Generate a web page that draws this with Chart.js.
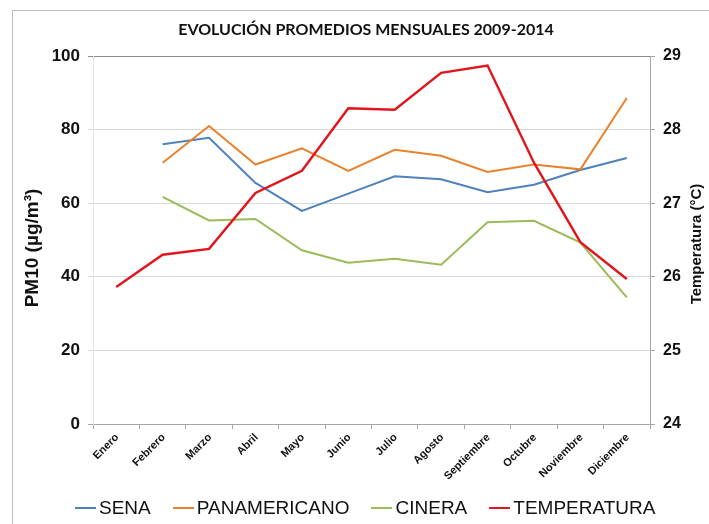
<!DOCTYPE html>
<html>
<head>
<meta charset="utf-8">
<script src="https://cdn.jsdelivr.net/npm/chart.js@4"></script>
<style>
  body { margin: 0; background: #fff; }
  #wrap { position: relative; width: 709px; height: 524px; overflow: hidden; }
  #frame { position: absolute; left: 12px; top: 10px; width: 720px; height: 540px;
           border-left: 1px solid #bdbdbd; border-top: 1px solid #bdbdbd; }
  #chart { position: absolute; left: 0; top: 0; }
  #legend { position: absolute; left: 75px; top: 497px; display: flex; align-items: center;
            font-family: Arial, "Liberation Sans", sans-serif; font-size: 19px; color: #111; }
  #legend .item { display: flex; align-items: center; margin-right: 22px; }
  #legend .swatch { width: 21px; height: 2px; margin-right: 3px; }
</style>
</head>
<body>
<div id="wrap">
  <div id="frame"></div>
  <canvas id="chart" width="709" height="524"></canvas>
  <div id="legend"></div>
</div>
<script>
// monthly averages 2009-2014
const months = ['Enero', 'Febrero', 'Marzo', 'Abril', 'Mayo', 'Junio', 'Julio',
                'Agosto', 'Septiembre', 'Octubre', 'Noviembre', 'Diciembre'];
const sena = [null, 76, 77.8, 65.5, 57.9, 62.6, 67.3, 66.5, 63, 65, 69, 72.3];
const panamericano = [null, 71, 81, 70.5, 74.9, 68.8, 74.5, 72.9, 68.5, 70.5, 69.2, 88.6];
const cinera = [null, 61.7, 55.3, 55.7, 47.2, 43.8, 44.9, 43.3, 54.8, 55.2, 49.3, 34.4];
const temperatura = [25.86, 26.30, 26.38, 27.14, 27.44, 28.29, 28.27, 28.77, 28.87, 27.55, 26.47, 25.97];
const pmTicks = [0, 20, 40, 60, 80, 100];
const tempTicks = [24, 25, 26, 27, 28, 29];

const seriesNames = ['SENA', 'PANAMERICANO', 'CINERA', 'TEMPERATURA'];
const seriesColors = ['#4f81bd', '#e8822b', '#9bbb59', '#e3141b'];

const boldFont = 'Arial, "Liberation Sans", sans-serif';

// left-axis grid: top line darker like a plot border
function gridColor(ctx) {
    if (!ctx.tick) return '#d9d9d9';
    if (ctx.tick.value === 100) return '#8c8c8c';
    if (ctx.tick.value === 0) return '#a6a6a6';
    return '#d9d9d9';
}

// chart title and both axis titles, drawn by hand for placement
const titles = {
    id: 'titles',
    afterDraw(chart) {
        const c = chart.ctx;
        c.save();
        c.fillStyle = '#111';
        c.textAlign = 'center';
        c.textBaseline = 'middle';

        c.font = 'bold 16px Lato, sans-serif';
        c.fillText('EVOLUCIÓN PROMEDIOS MENSUALES 2009-2014', 366, 30);

        c.save();
        c.translate(33, 248);
        c.rotate(-Math.PI / 2);
        c.font = 'bold 19px ' + boldFont;
        c.fillText('PM10 (µg/m³)', 0, 0);
        c.restore();

        c.save();
        c.translate(697, 244);
        c.rotate(-Math.PI / 2);
        c.font = 'bold 15px ' + boldFont;
        c.fillText('Temperatura (°C)', 0, 0);
        c.restore();

        c.restore();
    }
};

const ctx = document.getElementById('chart').getContext('2d');
new Chart(ctx, {
    type: 'line',
    data: {
        labels: months,
        datasets: [
            { label: seriesNames[0], data: sena, borderColor: seriesColors[0], yAxisID: 'y', order: 4 },
            { label: seriesNames[1], data: panamericano, borderColor: seriesColors[1], yAxisID: 'y', order: 3 },
            { label: seriesNames[2], data: cinera, borderColor: seriesColors[2], yAxisID: 'y', order: 2 },
            { label: seriesNames[3], data: temperatura, borderColor: seriesColors[3], yAxisID: 'y2', order: 1, borderWidth: 2.4 }
        ]
    },
    options: {
        responsive: false,
        devicePixelRatio: 1,
        animation: false,
        layout: { padding: { left: 0, right: 0, top: 56, bottom: 40 } },
        elements: {
            line: { borderWidth: 2, tension: 0, fill: false },
            point: { radius: 0, hoverRadius: 0 }
        },
        plugins: {
            legend: { display: false },
            tooltip: { enabled: false },
            title: { display: false }
        },
        scales: {
            x: {
                offset: true,
                grid: { offset: true, drawOnChartArea: false, tickLength: 5, color: '#a6a6a6' },
                border: { color: '#a6a6a6' },
                ticks: {
                    color: '#111', minRotation: 45, maxRotation: 45, padding: 2, labelOffset: 1,
                    autoSkip: false,
                    font: { family: boldFont, size: 11, weight: 'bold' }
                },
                afterFit(scale) { scale.height = 60; }
            },
            y: {
                position: 'left',
                min: 0, max: 100,
                afterBuildTicks(scale) { scale.ticks = pmTicks.map(v => ({ value: v })); },
                grid: { color: gridColor, tickLength: 5 },
                border: { color: '#e6e6e6' },
                ticks: { color: '#111', padding: 8, font: { family: boldFont, size: 17, weight: 'bold' } },
                afterFit(scale) { scale.width = 93; }
            },
            y2: {
                position: 'right',
                min: 24, max: 29,
                afterBuildTicks(scale) { scale.ticks = tempTicks.map(v => ({ value: v })); },
                grid: { drawOnChartArea: false, tickLength: 5, color: '#a6a6a6' },
                border: { color: '#a6a6a6' },
                ticks: { color: '#111', padding: 8, font: { family: boldFont, size: 16, weight: 'bold' } },
                afterFit(scale) { scale.width = 59; }
            }
        }
    },
    plugins: [titles]
});

// legend below the chart
const legend = document.getElementById('legend');
seriesNames.forEach((name, i) => {
    const item = document.createElement('div');
    item.className = 'item';
    const sw = document.createElement('span');
    sw.className = 'swatch';
    sw.style.background = seriesColors[i];
    const txt = document.createElement('span');
    txt.textContent = name;
    item.appendChild(sw);
    item.appendChild(txt);
    legend.appendChild(item);
});
</script>
</body>
</html>
